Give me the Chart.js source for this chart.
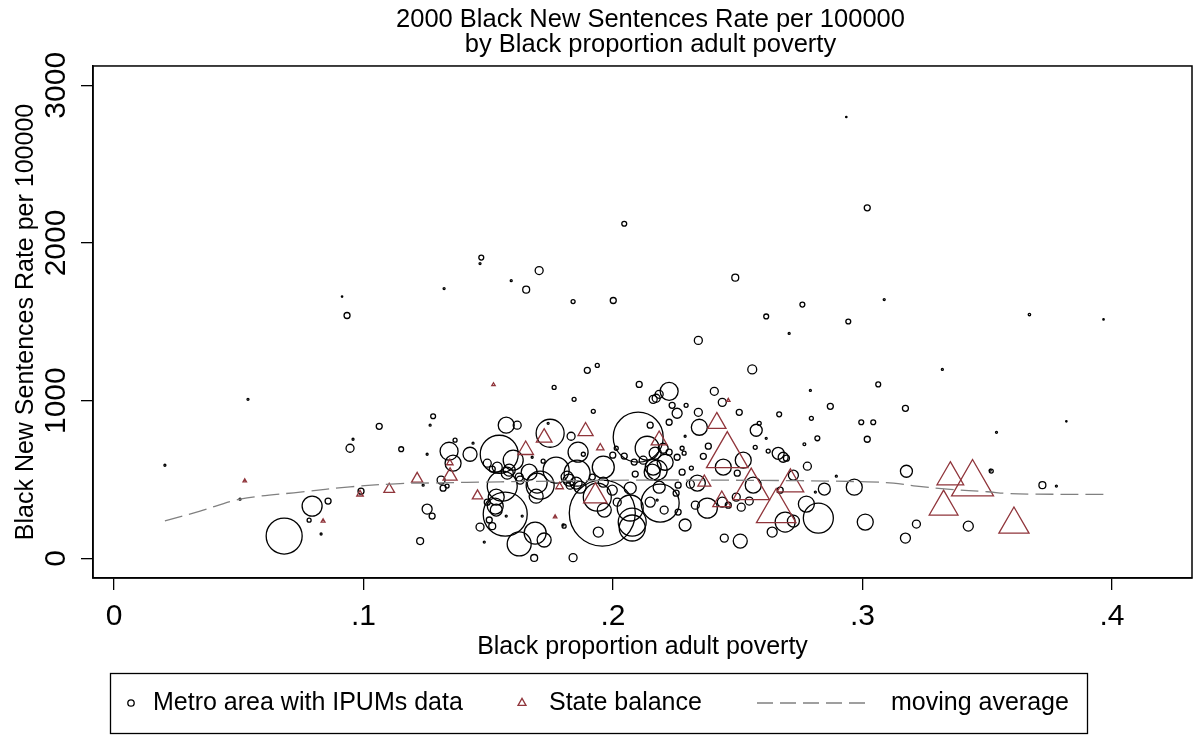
<!DOCTYPE html>
<html>
<head>
<meta charset="utf-8">
<script src="https://cdn.jsdelivr.net/npm/chart.js@4.4.1/dist/chart.umd.min.js"></script>
<style>
html,body{margin:0;padding:0;background:#fff;}
#wrap{position:relative;width:1199px;height:735px;}
canvas{display:block;}
</style>
</head>
<body>
<div id="wrap"><canvas id="c" width="1199" height="735"></canvas></div>
<script>
// ---------- DATA ----------
const chartTitle = ['2000 Black New Sentences Rate per 100000', 'by Black proportion adult poverty'];
const xAxisTitle = 'Black proportion adult poverty';
const yAxisTitle = 'Black New Sentences Rate per 100000';
const legendLabels = ['Metro area with IPUMs data', 'State balance', 'moving average'];

const xTicks = [0, 0.1, 0.2, 0.3, 0.4];
const xTickLabels = ['0', '.1', '.2', '.3', '.4'];
const yTicks = [0, 1000, 2000, 3000];
const yTickLabels = ['0', '1000', '2000', '3000'];

// Metro areas: poverty proportion, sentence rate, analytic weight
const metroX = [
.0914,.0934,.1323,.1472,.1467,.1592,.1704,.1652,.1840,.2001,
.2045,.1897,.1937,.2935,.3019,.2490,.2759,.3087,.2614,.2943,
.2706,.3669,.3966,.2342,.2558,.3320,.0537,.0204,.1063,.0946,
.0958,.1151,.0858,.0794,.0782,.0830,.0682,.0505,.0990,
.1279,.1267,.1255,.1367,.1439,.1343,.1359,.1427,.1311,.1319,
.1335,.1239,.1255,.1275,.1227,.1484,.1544,.1572,.1616,.1600,
.1676,.1496,.1536,.1516,.1584,.1556,.1624,.1664,.1708,.1692,
.1568,.1528,.1532,.1572,.1636,.1516,.1624,.1688,.1724,.1684,
.1840,.1748,.1740,.1832,.1764,.1844,.1720,.1772,.1860,.1881,
.1824,.1852,.1828,.1804,
.2105,.1921,.2225,.2185,.2173,.2161,.2237,.2257,.2293,.2225,
.2406,.2438,.2506,.2342,.2346,.2666,.2586,.2574,.2614,.2570,
.2662,.2682,.2695,.2622,.2382,.2362,.2289,.2149,.2101,.2137,
.2169,.2201,.2225,.2257,.2277,.2285,.2314,.2277,.2338,.2310,
.2261,.2209,.2177,.2157,.2121,.2085,.2089,.2045,.2013,.1961,
.1856,.1917,.1961,.1997,.1937,.2017,.1965,.2069,.2149,.2189,
.2077,.1957,.2077,.2069,.2289,.2261,.2205,.2177,.2330,.2378,
.2438,.2462,.2514,.2546,.2494,.2442,.2498,.2522,.2562,.2446,
.2510,.2638,.2690,.2723,.2161,.2185,.2253,.1999,.1816,.1868,
.1576,.1628,.1696,.1532,.1496,.1504,.1467,.1800,.1941,
.3063,.2791,.2871,.2795,.2995,.3043,.3172,.3019,.2819,.2767,
.2779,.2895,.3176,.2723,.2847,.2967,.2811,.2670,.2775,.2823,
.3011,.3216,.3172,.3424,.3512,.3817,.3537,.3516,.3721,.3777
];
const metroY = [
1660,1540,1711,1907,1869,1761,1825,1704,1628,1635,
2122,1192,1223,2799,2223,1780,1609,1641,1534,1502,
1426,1546,1515,1382,1198,1198,1008,590,837,698,
755,692,363,331,242,154,141,375,426,
901,844,660,749,730,679,603,660,496,445,
458,464,312,268,109,103,660,844,844,622,
641,603,578,566,559,458,515,546,464,394,
280,331,306,268,268,204,91,160,116,2,
4,793,856,774,1084,1008,616,559,673,660,
496,477,464,204,
1103,932,1059,1040,1015,1008,970,920,970,863,
1059,989,926,926,831,913,856,812,761,704,
666,641,635,680,711,647,774,844,768,698,
667,698,673,641,698,667,572,546,477,470,
464,609,559,546,622,610,534,648,698,578,
540,515,483,432,388,356,306,445,356,350,
230,287,192,319,211,293,306,369,337,318,
356,337,324,363,388,578,540,622,464,128,
109,166,230,236,578,451,413,654,515,451,
540,496,477,388,356,243,198,211,166,
1103,1065,964,888,863,863,951,755,761,723,
584,521,552,527,439,451,420,432,344,255,
230,217,128,204,559,869,799,553,464,458
];
const metroWeight = [
.5,9,1,6,1,1,16,12,4,9,
6,9,4,.5,9,12,6,1,6,6,
1,1.5,.5,16,20,1,1,1,9,16,
1,6,9,100,4,1,324,1,9,
6,1,1,4,1,81,64,49,16,9,
4,1,25,9,12,1,361,64,16,100,
1,16,25,9,36,225,16,64,196,49,
484,64,36,1,1,12,144,121,49,12,
16,196,1,16,4,4,4,169,100,4,
36,36,16,4,
9,4,81,16,16,16,9,25,4,9,
16,16,9,16,64,6,4,36,1,4,
36,25,9,4,9,9,1,9,625,144,
36,25,9,9,4,4,4,9,64,16,
9,64,100,64,16,9,9,9,4,121,
169,9,25,25,196,16,49,36,25,361,
196,1089,169,169,36,9,16,1,16,100,
25,9,16,16,16,64,9,64,64,16,
49,25,100,36,64,36,9,9,36,36,
36,16,100,64,9,9,16,1,25,
6,1,9,4,6,6,9,9,6,2,
16,1,36,25,36,64,1,9,64,225,
64,16,25,25,1,.5,1,4,12,1
];

// State balances
const stateX = [.0524,.0838,.0986,.1103,.1215,.1346,.1347,.1457,.1521,.1650,
.1724,.1890,.1786,.1768,.1949,.1929,.2185,.2416,.2462,.2458,
.2366,.2436,.2554,.2654,.2711,.3352,.3441,.3325,.3607];
const stateY = [491,236,407,437,504,605,522,396,1101,687,
765,806,455,263,701,394,749,858,1002,651,
481,361,439,298,470,515,473,327,215];
const stateWeight = [4,5,14,38,42,14,66,36,4,81,
81,76,19,4,18,182,85,112,4,576,
56,108,441,520,237,237,586,276,303];

// Moving average
const maX = [.0204,.0345,.0505,.0746,.0946,.1147,.1279,.1548,.2081,.2350,.2751,.3019,.3124,.3216,.3352,.3500,.3581,.3685,.3974];
const maY = [238,299,375,420,453,474,478,485,496,496,492,485,477,458,437,422,411,407,405];

// ---------- CHART ----------
const FAMILY = '"Liberation Sans", Arial, Helvetica, sans-serif';
const RED = 'rgb(144,53,59)';
const GREY = 'rgb(128,128,128)';

const metroData = metroX.map((x, i) => ({x: x, y: metroY[i], r: Math.sqrt(metroWeight[i])}));
const stateData = stateX.map((x, i) => ({x: x, y: stateY[i], r: Math.sqrt(stateWeight[i])}));
const maData = maX.map((x, i) => ({x: x, y: maY[i]}));

const plotFrame = {
  id: 'plotFrame',
  afterLayout(chart) {
    // Stata centres the title slightly right of the plot region centre
    const t = chart.titleBlock;
    if (t) { t.left += 8; t.right += 8; }
  },
  afterDraw(chart) {
    const {ctx, chartArea: a} = chart;
    ctx.save();
    ctx.strokeStyle = '#000';
    ctx.lineWidth = 1.5;
    ctx.strokeRect(a.left, a.top, a.right - a.left, a.bottom - a.top);
    ctx.restore();
  }
};

const legendBox = {
  id: 'legendBox',
  afterDraw(chart) {
    const ctx = chart.ctx;
    const cy = 703;
    ctx.save();
    ctx.strokeStyle = '#000';
    ctx.lineWidth = 1.3;
    ctx.strokeRect(110.5, 673.5, 977, 60);
    // circle marker
    ctx.beginPath();
    ctx.arc(131, cy, 3.2, 0, Math.PI * 2);
    ctx.stroke();
    // triangle marker
    ctx.strokeStyle = RED;
    const tr = 4.6;
    ctx.beginPath();
    ctx.moveTo(522, cy - tr);
    ctx.lineTo(522 + tr * 0.866, cy + tr / 2);
    ctx.lineTo(522 - tr * 0.866, cy + tr / 2);
    ctx.closePath();
    ctx.stroke();
    // dashed line
    ctx.strokeStyle = GREY;
    ctx.setLineDash([16, 7]);
    ctx.beginPath();
    ctx.moveTo(757, cy);
    ctx.lineTo(872, cy);
    ctx.stroke();
    ctx.setLineDash([]);
    // texts
    ctx.fillStyle = '#000';
    ctx.font = '25px ' + FAMILY;
    ctx.textBaseline = 'middle';
    ctx.textAlign = 'left';
    ctx.fillText(legendLabels[0], 153, cy);
    ctx.fillText(legendLabels[1], 549, cy);
    ctx.fillText(legendLabels[2], 891, cy);
    ctx.restore();
  }
};

new Chart(document.getElementById('c'), {
  type: 'bubble',
  data: {
    datasets: [
      {
        type: 'line',
        label: legendLabels[2],
        data: maData,
        borderColor: GREY,
        borderWidth: 1.3,
        borderDash: [18, 7],
        pointRadius: 0,
        fill: false,
        tension: 0.35,
        order: 1
      },
      {
        label: legendLabels[1],
        data: stateData,
        pointStyle: 'triangle',
        borderColor: RED,
        backgroundColor: 'rgba(0,0,0,0)',
        borderWidth: 1.3,
        order: 2
      },
      {
        label: legendLabels[0],
        data: metroData,
        pointStyle: 'circle',
        borderColor: '#000',
        backgroundColor: 'rgba(0,0,0,0)',
        borderWidth: 1.3,
        order: 3
      }
    ]
  },
  options: {
    responsive: false,
    animation: false,
    devicePixelRatio: 1,
    events: [],
    layout: { autoPadding: false, padding: { left: 0, right: 7, top: 0, bottom: 75 } },
    plugins: {
      legend: { display: false },
      tooltip: { enabled: false },
      title: {
        display: true,
        text: chartTitle,
        color: '#000',
        fullSize: false,
        font: { family: FAMILY, size: 25.5, weight: 'normal', lineHeight: 0.98 },
        padding: { top: 7.5, bottom: 8.5 }
      }
    },
    scales: {
      x: {
        type: 'linear',
        min: -0.00842,
        max: 0.43206,
        afterBuildTicks: s => { s.ticks = xTicks.map(v => ({ value: v })); },
        afterFit: s => { s.height = 82; s.paddingLeft = 0; s.paddingRight = 0; },
        ticks: {
          autoSkip: false,
          maxRotation: 0,
          minRotation: 0,
          padding: 9,
          color: '#000',
          font: { family: FAMILY, size: 30 },
          callback: (v, i) => xTickLabels[i]
        },
        grid: { display: true, drawOnChartArea: false, drawTicks: true, tickLength: 12, color: '#000', lineWidth: 1.3 },
        border: { display: true, color: '#000', width: 1.5 },
        title: {
          display: true,
          text: xAxisTitle,
          color: '#000',
          font: { family: FAMILY, size: 25 },
          padding: { top: 0, bottom: -2 }
        }
      },
      y: {
        type: 'linear',
        min: -125,
        max: 3122.5,
        afterBuildTicks: s => { s.ticks = yTicks.map(v => ({ value: v })); },
        afterFit: s => { s.width = 93; s.paddingTop = 0; s.paddingBottom = 0; },
        ticks: {
          autoSkip: false,
          minRotation: 90,
          maxRotation: 90,
          crossAlign: 'center',
          padding: -9,
          color: '#000',
          font: { family: FAMILY, size: 30 },
          callback: (v, i) => yTickLabels[i]
        },
        grid: { display: true, drawOnChartArea: false, drawTicks: true, tickLength: 12, color: '#000', lineWidth: 1.3 },
        border: { display: true, color: '#000', width: 1.5 },
        title: {
          display: true,
          text: yAxisTitle,
          color: '#000',
          font: { family: FAMILY, size: 25 },
          padding: { top: 11, bottom: 0 }
        }
      }
    }
  },
  plugins: [plotFrame, legendBox]
});
</script>
</body>
</html>
